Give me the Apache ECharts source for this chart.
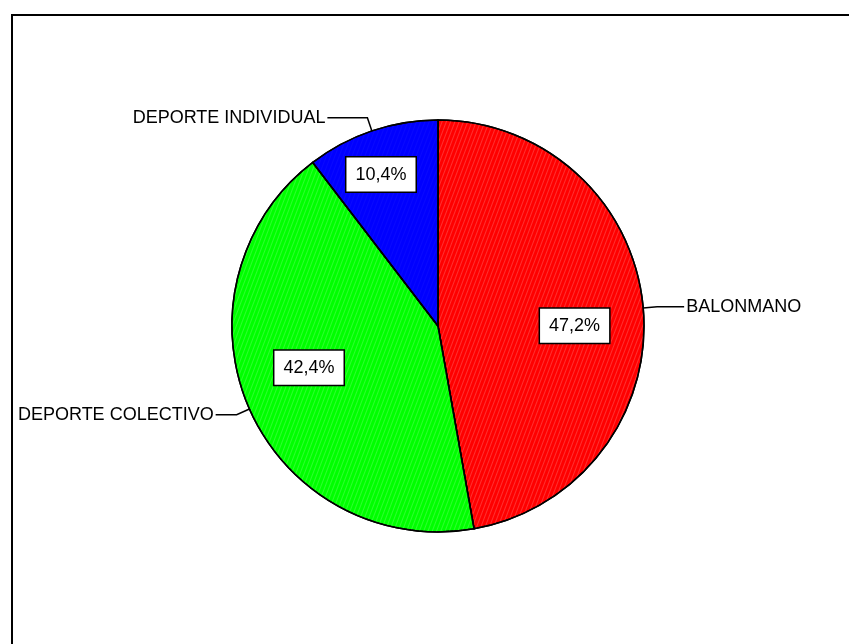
<!DOCTYPE html>
<html>
<head>
<meta charset="utf-8">
<style>
  html, body { margin: 0; padding: 0; background: #fff; }
  #chart { width: 849px; height: 644px; }
</style>
<script src="https://cdn.jsdelivr.net/npm/echarts@6/dist/echarts.min.js"></script>
</head>
<body>
<div id="chart"></div>
<script>
// Distribución por tipo de deporte (%)
const categories = ['BALONMANO', 'DEPORTE COLECTIVO', 'DEPORTE INDIVIDUAL'];
const percentages = [47.2, 42.4, 10.4];
const sliceColors = ['#ff0000', '#00ff00', '#0000ff'];

// Nudges for the boxed percentage labels, by slice
const boxShift = [[31, 9], [-32, -1], [-23, -51]];
// Leader line segment lengths for the name labels, by slice
const leaderLen = [[14, 27], [14, 21], [14, 40]];

const fmtPct = v => v.toFixed(1).replace('.', ',') + '%';

const hatch = (c) => ({
  symbol: 'rect',
  symbolSize: 1,
  dashArrayX: [1, 0],
  dashArrayY: [1, 3],
  rotation: -Math.PI / 2.6,
  color: c,
  backgroundColor: null
});
const hatchColors = ['rgba(255,120,120,0.4)', 'rgba(150,255,150,0.3)', 'rgba(90,90,255,0.1)'];

const pieData = categories.map((name, i) => ({
  name,
  value: percentages[i],
  itemStyle: { color: sliceColors[i], decal: hatch(hatchColors[i]) }
}));

const nameData = categories.map((name, i) => ({
  name,
  value: percentages[i],
  labelLine: { length: leaderLen[i][0], length2: leaderLen[i][1] }
}));

const font = 'Liberation Sans, Arial, sans-serif';
const center = [438, 326];
const radius = 206;

const chart = echarts.init(document.getElementById('chart'), null, { renderer: 'canvas' });
chart.setOption({
  backgroundColor: '#fff',
  animation: false,
  graphic: [{
    type: 'rect',
    shape: { x: 12, y: 15, width: 900, height: 700 },
    style: { fill: null, stroke: '#000', lineWidth: 2 },
    z: 0
  }],
  series: [
    {
      type: 'pie',
      center,
      radius,
      startAngle: 90,
      clockwise: true,
      data: pieData,
      itemStyle: { borderColor: '#000', borderWidth: 1.5 },
      label: {
        position: 'inside',
        formatter: p => fmtPct(p.value),
        fontFamily: font,
        fontSize: 18,
        color: '#000',
        backgroundColor: '#fff',
        borderColor: '#000',
        borderWidth: 1.5,
        padding: [8, 9, 8, 9]
      },
      labelLine: { show: false },
      labelLayout: p => ({ dx: boxShift[p.dataIndex][0], dy: boxShift[p.dataIndex][1] }),
      emphasis: { disabled: true },
      silent: true,
      z: 2
    },
    {
      type: 'pie',
      center,
      radius,
      startAngle: 90,
      clockwise: true,
      data: nameData,
      itemStyle: { color: 'rgba(0,0,0,0)', borderWidth: 0 },
      label: {
        position: 'outside',
        formatter: '{b}',
        fontFamily: font,
        fontSize: 18,
        color: '#000',
        distanceToLabelLine: 2
      },
      labelLine: {
        show: true,
        lineStyle: { color: '#000', width: 1.5 }
      },
      emphasis: { disabled: true },
      silent: true,
      z: 3
    }
  ]
});
</script>
</body>
</html>
